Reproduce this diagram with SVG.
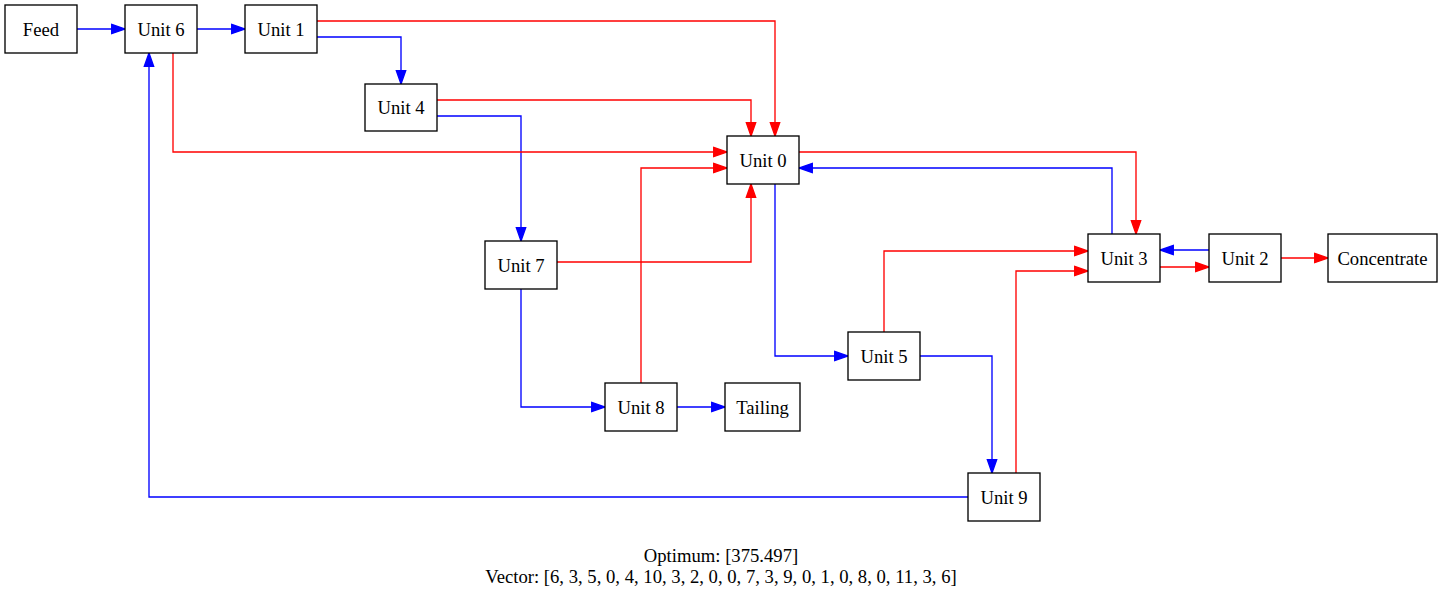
<svg xmlns="http://www.w3.org/2000/svg" width="1443" height="599" viewBox="0 0 1443 599">
<style>
.n rect{fill:#fff;stroke:#000;stroke-width:1.33}
.n text,.lbl{font-family:"Liberation Serif","Times New Roman",serif;font-size:18.67px;fill:#000;text-anchor:middle}
.r{fill:none;stroke:#f00;stroke-width:1.33;marker-end:url(#ar)}
.b{fill:none;stroke:#00f;stroke-width:1.33;marker-end:url(#ab)}
</style>
<defs>
<marker id="ar" markerUnits="userSpaceOnUse" markerWidth="16" markerHeight="12" refX="14" refY="6" orient="auto" overflow="visible">
<path d="M0.7,1.33 L14,6 L0.7,10.67 Z" fill="#f00" stroke="#f00" stroke-width="1.33"/>
</marker>
<marker id="ab" markerUnits="userSpaceOnUse" markerWidth="16" markerHeight="12" refX="14" refY="6" orient="auto" overflow="visible">
<path d="M0.7,1.33 L14,6 L0.7,10.67 Z" fill="#00f" stroke="#00f" stroke-width="1.33"/>
</marker>
</defs>
<rect width="1443" height="599" fill="#fff"/>
<g id="connectors">
<path class="b" d="M77,29 H125"/>
<path class="b" d="M197,29 H245"/>
<path class="r" d="M317,21 H775 V136"/>
<path class="b" d="M317,37 H401 V84"/>
<path class="r" d="M437,100 H751 V136"/>
<path class="b" d="M437,116 H521 V241"/>
<path class="r" d="M173,53 V152 H727"/>
<path class="b" d="M968,497 H149 V53"/>
<path class="r" d="M641,383 V168 H727"/>
<path class="r" d="M557,262 H751 V184"/>
<path class="b" d="M521,289 V407 H605"/>
<path class="b" d="M677,407 H725"/>
<path class="b" d="M775,184 V356 H848"/>
<path class="r" d="M799,152 H1136 V234"/>
<path class="b" d="M1112,234 V168 H799"/>
<path class="r" d="M884,332 V251 H1088"/>
<path class="r" d="M1016,473 V271 H1088"/>
<path class="b" d="M1209,250 H1160"/>
<path class="r" d="M1160,267 H1209"/>
<path class="r" d="M1281,258 H1328"/>
<path class="b" d="M920,356 H992 V473"/>
</g>
<g id="feed" class="n"><rect x="5" y="5" width="72" height="48"/><text x="41" y="35.5">Feed</text></g>
<g id="unit6" class="n"><rect x="125" y="5" width="72" height="48"/><text x="161" y="35.5">Unit 6</text></g>
<g id="unit1" class="n"><rect x="245" y="5" width="72" height="48"/><text x="281" y="35.5">Unit 1</text></g>
<g id="unit4" class="n"><rect x="365" y="84" width="72" height="47"/><text x="401" y="114">Unit 4</text></g>
<g id="unit0" class="n"><rect x="727" y="136" width="72" height="48"/><text x="763" y="166.5">Unit 0</text></g>
<g id="unit7" class="n"><rect x="485" y="241" width="72" height="48"/><text x="521" y="271.5">Unit 7</text></g>
<g id="unit3" class="n"><rect x="1088" y="234" width="72" height="48"/><text x="1124" y="264.5">Unit 3</text></g>
<g id="unit2" class="n"><rect x="1209" y="234" width="72" height="48"/><text x="1245" y="264.5">Unit 2</text></g>
<g id="concentrate" class="n"><rect x="1328" y="234" width="109" height="48"/><text x="1382.5" y="264.5">Concentrate</text></g>
<g id="unit5" class="n"><rect x="848" y="332" width="72" height="48"/><text x="884" y="362.5">Unit 5</text></g>
<g id="unit8" class="n"><rect x="605" y="383" width="72" height="48"/><text x="641" y="413.5">Unit 8</text></g>
<g id="tailing" class="n"><rect x="725" y="383" width="75" height="48"/><text x="762.5" y="413.5">Tailing</text></g>
<g id="unit9" class="n"><rect x="968" y="473" width="72" height="48"/><text x="1004" y="503.5">Unit 9</text></g>
<g id="caption">
<text class="lbl" x="721" y="562">Optimum: [375.497]</text>
<text class="lbl" x="721" y="583">Vector: [6, 3, 5, 0, 4, 10, 3, 2, 0, 0, 7, 3, 9, 0, 1, 0, 8, 0, 11, 3, 6]</text>
</g>
</svg>
